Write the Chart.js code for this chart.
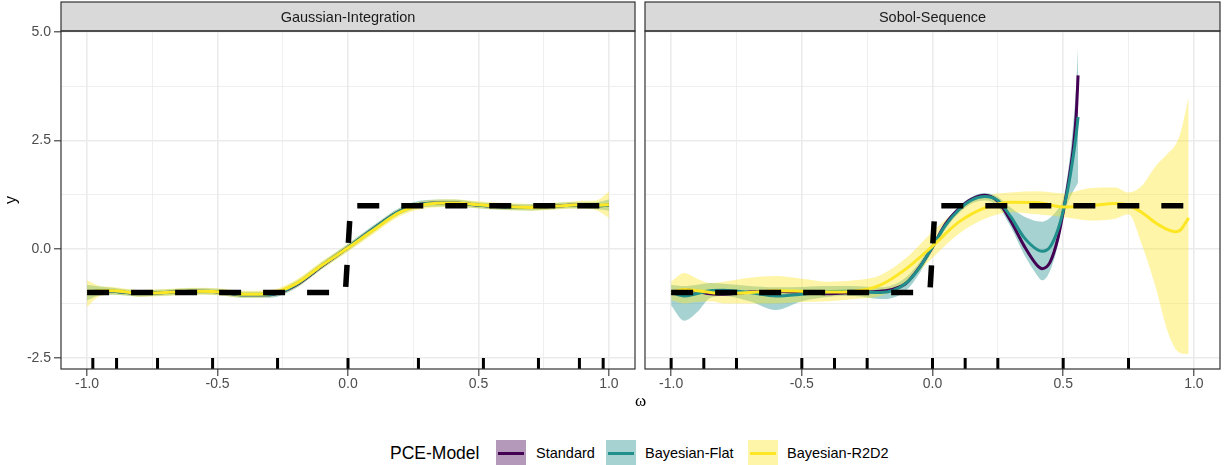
<!DOCTYPE html>
<html>
<head>
<meta charset="utf-8">
<script src="https://cdn.jsdelivr.net/npm/chart.js@4.4.1/dist/chart.umd.min.js"></script>
<style>
  body { margin: 0; background: #fff; }
  #wrap { position: relative; width: 1225px; height: 465px; overflow: hidden; font-family: 'Liberation Sans', Arial, sans-serif; }
  canvas { position: absolute; top: 0; }
  #xtitle { position: absolute; left: 600px; width: 81px; top: 391px; line-height: 20px; text-align: center; font-size: 17px; font-family: 'Liberation Serif', 'DejaVu Serif', serif; color: #000; }
  .legtitle { position: absolute; top: 441px; line-height: 24px; font-size: 17.5px; color: #000; white-space: nowrap; }
  .legkey { position: absolute; top: 440px; width: 30px; height: 27px; }
  .legkey div { position: absolute; left: 2px; right: 2px; top: 12px; height: 3px; }
  .leglabel { position: absolute; top: 441px; line-height: 24px; font-size: 14.5px; color: #000; white-space: nowrap; }
</style>
</head>
<body>
<div id="wrap">
  <canvas id="gauss" width="640" height="400" style="left:0px"></canvas>
  <canvas id="sobol" width="585" height="400" style="left:640px"></canvas>
  <div id="xtitle">ω</div>
</div>
<script>
// --- data ---
const panelTitles = ['Gaussian-Integration', 'Sobol-Sequence'];
const models = ['Standard', 'Bayesian-Flat', 'Bayesian-R2D2'];
const legendTitle = 'PCE-Model';

const xTicks = [-1, -0.5, 0, 0.5, 1];
const xTickLabels = ['-1.0', '-0.5', '0.0', '0.5', '1.0'];
const xMinor = [-0.75, -0.25, 0.25, 0.75];
const yTicks = [-2.5, 0, 2.5, 5];
const yTickLabels = ['-2.5', '0.0', '2.5', '5.0'];
const yMinor = [-1.25, 1.25, 3.75];

// true step function (dashed)
const trueX = [-1, -0.01, 0.01, 1];
const trueY = [-1, -1, 1, 1];

// rug: sample points
const gaussNodes = [-0.978, -0.887, -0.730, -0.519, -0.270, 0, 0.270, 0.519, 0.730, 0.887, 0.978];
const sobolPoints = [-1, -0.875, -0.75, -0.5, -0.375, -0.25, 0, 0.125, 0.25, 0.5, 0.75];

// Gaussian-Integration panel
const gX      = [-1, -0.95, -0.9, -0.85, -0.8, -0.7, -0.6, -0.5, -0.4, -0.3, -0.2, -0.1, 0, 0.1, 0.2, 0.3, 0.4, 0.5, 0.6, 0.7, 0.8, 0.85, 0.9, 0.95, 1];
const gStd    = [-1.00, -0.97, -0.97, -1.00, -1.02, -1.00, -0.97, -0.98, -1.05, -1.05, -0.83, -0.39, 0.04, 0.48, 0.88, 1.05, 1.06, 1.01, 0.97, 0.96, 0.99, 1.01, 1.01, 1.00, 1.01];
const gFlat   = [-1.00, -0.96, -0.97, -1.00, -1.02, -1.00, -0.97, -0.98, -1.05, -1.05, -0.82, -0.38, 0.04, 0.48, 0.88, 1.05, 1.06, 1.01, 0.97, 0.96, 0.99, 1.01, 1.01, 1.00, 1.01];
const gFlatHi = [-0.82, -0.86, -0.89, -0.93, -0.95, -0.93, -0.90, -0.91, -0.98, -0.98, -0.74, -0.30, 0.12, 0.56, 0.96, 1.13, 1.14, 1.08, 1.04, 1.03, 1.06, 1.08, 1.08, 1.08, 1.14];
const gFlatLo = [-1.18, -1.06, -1.05, -1.07, -1.09, -1.07, -1.04, -1.05, -1.12, -1.12, -0.90, -0.46, -0.04, 0.40, 0.80, 0.97, 0.98, 0.94, 0.90, 0.89, 0.92, 0.94, 0.94, 0.92, 0.88];
const gR2     = [-1.00, -0.96, -0.96, -0.99, -1.02, -1.00, -0.97, -0.98, -1.04, -1.02, -0.80, -0.37, 0.03, 0.45, 0.85, 1.03, 1.06, 1.02, 0.98, 0.96, 0.99, 1.01, 1.02, 1.01, 1.02];
const gR2Hi   = [-0.72, -0.85, -0.87, -0.91, -0.94, -0.92, -0.89, -0.90, -0.96, -0.94, -0.71, -0.28, 0.12, 0.54, 0.94, 1.12, 1.15, 1.10, 1.06, 1.04, 1.07, 1.09, 1.11, 1.12, 1.32];
const gR2Lo   = [-1.33, -1.08, -1.05, -1.07, -1.10, -1.08, -1.05, -1.06, -1.12, -1.10, -0.89, -0.46, -0.06, 0.36, 0.76, 0.94, 0.97, 0.94, 0.90, 0.88, 0.91, 0.93, 0.93, 0.90, 0.72];

// Sobol-Sequence panel
const sX      = [-1, -0.95, -0.9, -0.85, -0.8, -0.7, -0.6, -0.5, -0.4, -0.3, -0.2, -0.15, -0.1, -0.05, 0, 0.05, 0.1, 0.15, 0.2, 0.25, 0.3, 0.35, 0.4, 0.42, 0.45, 0.48, 0.5, 0.52, 0.54, 0.55, 0.557];
const sStd    = [-1.00, -0.94, -0.97, -1.03, -1.04, -0.99, -0.97, -1.00, -1.03, -1.00, -0.97, -0.92, -0.78, -0.42, 0.05, 0.58, 0.92, 1.15, 1.24, 1.10, 0.64, 0.08, -0.37, -0.45, -0.30, 0.25, 0.85, 1.55, 2.40, 3.10, 4.00];
const sFlat   = [-1.00, -1.08, -1.02, -0.96, -0.95, -1.00, -1.08, -1.04, -0.98, -0.97, -1.00, -0.95, -0.78, -0.43, 0.05, 0.55, 0.90, 1.13, 1.21, 1.12, 0.74, 0.27, -0.01, -0.05, 0.05, 0.45, 0.88, 1.45, 2.20, 2.65, 3.04];
const sFlatHi = [-0.82, -0.85, -0.82, -0.78, -0.80, -0.85, -0.88, -0.87, -0.85, -0.85, -0.88, -0.82, -0.64, -0.30, 0.14, 0.63, 0.98, 1.20, 1.29, 1.20, 0.95, 0.75, 0.64, 0.63, 0.72, 0.92, 1.15, 1.85, 3.00, 3.80, 4.65];
const sFlatLo = [-1.30, -1.65, -1.45, -1.12, -1.08, -1.20, -1.40, -1.20, -1.10, -1.08, -1.15, -1.12, -0.95, -0.56, -0.04, 0.46, 0.82, 1.05, 1.12, 0.98, 0.50, -0.12, -0.60, -0.72, -0.50, 0.10, 0.70, 1.10, 1.35, 1.45, 1.54];
const sR2X    = [-1, -0.95, -0.9, -0.85, -0.8, -0.7, -0.6, -0.5, -0.4, -0.3, -0.2, -0.1, 0, 0.1, 0.2, 0.3, 0.4, 0.5, 0.6, 0.7, 0.75, 0.8, 0.85, 0.9, 0.93, 0.95, 0.98];
const sR2     = [-1.00, -0.93, -0.96, -1.00, -1.02, -1.00, -0.96, -0.97, -0.99, -0.97, -0.83, -0.45, 0.07, 0.62, 0.95, 1.08, 1.07, 0.97, 1.00, 1.05, 1.01, 0.85, 0.62, 0.45, 0.40, 0.45, 0.72];
const sR2Hi   = [-0.75, -0.55, -0.68, -0.78, -0.75, -0.66, -0.62, -0.68, -0.75, -0.72, -0.60, -0.20, 0.40, 0.92, 1.22, 1.30, 1.33, 1.28, 1.40, 1.42, 1.30, 1.45, 1.88, 2.20, 2.40, 2.70, 3.50];
const sR2Lo   = [-1.17, -1.25, -1.22, -1.20, -1.25, -1.25, -1.25, -1.22, -1.20, -1.15, -1.08, -0.78, -0.20, 0.35, 0.70, 0.85, 0.80, 0.74, 0.66, 0.70, 0.80, 0.12, -0.80, -1.90, -2.30, -2.40, -2.42];

// --- styles ---
const modelColors = ['#440154', '#21908C', '#FDE725'];
const ribbonColors = ['rgba(68,1,84,0.4)', 'rgba(33,144,140,0.4)', 'rgba(253,231,37,0.4)'];
const fontFamily = "'Liberation Sans', Arial, sans-serif";

function pts(xs, ys) {
    return xs.map((x, i) => ({ x: x, y: ys[i] }));
}

function lineSet(xs, ys, k) {
    return {
        data: pts(xs, ys),
        borderColor: modelColors[k],
        borderWidth: 3,
        pointRadius: 0,
        fill: false,
        cubicInterpolationMode: 'monotone',
        order: 3 - k
    };
}

function ribbonSets(xs, hi, lo, k) {
    return [{
        data: pts(xs, hi),
        borderColor: 'rgba(0,0,0,0)',
        borderWidth: 0,
        pointRadius: 0,
        backgroundColor: ribbonColors[k],
        fill: '+1',
        cubicInterpolationMode: 'monotone',
        order: 12 - k
    }, {
        data: pts(xs, lo),
        borderColor: 'rgba(0,0,0,0)',
        borderWidth: 0,
        pointRadius: 0,
        fill: false,
        cubicInterpolationMode: 'monotone',
        order: 12 - k
    }];
}

function truthSet() {
    return {
        data: pts(trueX, trueY),
        borderColor: '#000',
        borderWidth: 5.5,
        borderDash: [22, 22],
        borderCapStyle: 'butt',
        pointRadius: 0,
        fill: false,
        tension: 0,
        order: 0
    };
}

// strip, panel border and rug
const panelPlugin = {
    id: 'panel',
    beforeDraw(chart, args, opts) {
        const ctx = chart.ctx, a = chart.chartArea;
        ctx.save();
        ctx.fillStyle = '#D9D9D9';
        ctx.fillRect(a.left, 2, a.right - a.left, a.top - 2);
        ctx.restore();
    },
    afterDatasetsDraw(chart, args, opts) {
        const ctx = chart.ctx, a = chart.chartArea, xs = chart.scales.x;
        ctx.save();
        ctx.strokeStyle = '#000';
        ctx.lineWidth = 3;
        ctx.beginPath();
        opts.rug.forEach(v => {
            const px = xs.getPixelForValue(v);
            ctx.moveTo(px, a.bottom);
            ctx.lineTo(px, a.bottom - 11);
        });
        ctx.stroke();
        ctx.restore();
    },
    afterDraw(chart, args, opts) {
        const ctx = chart.ctx, a = chart.chartArea;
        ctx.save();
        ctx.strokeStyle = '#333333';
        ctx.lineWidth = 1.2;
        ctx.strokeRect(a.left, 2, a.right - a.left, a.top - 2);
        ctx.strokeRect(a.left, a.top, a.right - a.left, a.bottom - a.top);
        ctx.fillStyle = '#1A1A1A';
        ctx.font = '14.5px ' + fontFamily;
        ctx.textAlign = 'center';
        ctx.textBaseline = 'middle';
        ctx.fillText(opts.title, (a.left + a.right) / 2, (2 + a.top) / 2 + 1);
        ctx.restore();
    }
};

function gridOpts(major, drawTicks) {
    return {
        color: '#EBEBEB',
        lineWidth: c => major.includes(c.tick.value) ? 1.6 : 0.8,
        drawTicks: drawTicks,
        tickLength: 7,
        tickWidth: 1.1,
        tickColor: c => major.includes(c.tick.value) ? '#333333' : 'rgba(0,0,0,0)'
    };
}

function makePanel(id, title, datasets, rug, showY) {
    return new Chart(document.getElementById(id), {
        type: 'line',
        data: { datasets: datasets },
        options: {
            responsive: false,
            animation: false,
            layout: { padding: { left: showY ? 0 : 5, right: 5, top: 31, bottom: 0 } },
            plugins: {
                legend: { display: false },
                tooltip: { enabled: false },
                panel: { title: title, rug: rug }
            },
            scales: {
                x: {
                    type: 'linear',
                    min: -1.1,
                    max: 1.1,
                    afterBuildTicks: s => {
                        s.ticks = xTicks.concat(xMinor).sort((p, q) => p - q).map(v => ({ value: v }));
                    },
                    afterFit: s => { s.height = 31; },
                    border: { display: false },
                    grid: gridOpts(xTicks, true),
                    ticks: {
                        autoSkip: false,
                        maxRotation: 0,
                        padding: 0,
                        color: '#4D4D4D',
                        font: { family: fontFamily, size: 14 },
                        callback: v => {
                            const i = xTicks.indexOf(v);
                            return i < 0 ? '' : xTickLabels[i];
                        }
                    }
                },
                y: {
                    type: 'linear',
                    min: -2.76,
                    max: 5.02,
                    afterBuildTicks: s => {
                        s.ticks = yTicks.concat(yMinor).sort((p, q) => p - q).map(v => ({ value: v }));
                    },
                    afterFit: s => { s.width = showY ? 61 : 0; },
                    border: { display: false },
                    grid: gridOpts(yTicks, showY),
                    title: {
                        display: showY,
                        text: 'y',
                        color: '#000',
                        font: { family: fontFamily, size: 16 },
                        padding: { top: 2, bottom: 0 }
                    },
                    ticks: {
                        display: showY,
                        autoSkip: false,
                        padding: 3,
                        color: '#4D4D4D',
                        font: { family: fontFamily, size: 14 },
                        callback: v => {
                            const i = yTicks.indexOf(v);
                            return i < 0 ? '' : yTickLabels[i];
                        }
                    }
                }
            }
        },
        plugins: [panelPlugin]
    });
}

const gaussSets = [truthSet(),
    lineSet(gX, gR2, 2), lineSet(gX, gFlat, 1), lineSet(gX, gStd, 0)]
    .concat(ribbonSets(gX, gFlatHi, gFlatLo, 1))
    .concat(ribbonSets(gX, gR2Hi, gR2Lo, 2));

const sobolSets = [truthSet(),
    lineSet(sR2X, sR2, 2), lineSet(sX, sFlat, 1), lineSet(sX, sStd, 0)]
    .concat(ribbonSets(sX, sFlatHi, sFlatLo, 1))
    .concat(ribbonSets(sR2X, sR2Hi, sR2Lo, 2));

makePanel('gauss', panelTitles[0], gaussSets, gaussNodes, true);
makePanel('sobol', panelTitles[1], sobolSets, sobolPoints, false);

// legend
const wrap = document.getElementById('wrap');
const keyLeft = [496, 606, 748];
const labelLeft = [536, 645, 787];
const lt = document.createElement('div');
lt.className = 'legtitle';
lt.style.left = '390px';
lt.textContent = legendTitle;
wrap.appendChild(lt);
models.forEach((m, k) => {
    const key = document.createElement('div');
    key.className = 'legkey';
    key.style.left = keyLeft[k] + 'px';
    key.style.background = ribbonColors[k];
    const bar = document.createElement('div');
    bar.style.background = modelColors[k];
    key.appendChild(bar);
    wrap.appendChild(key);
    const lab = document.createElement('div');
    lab.className = 'leglabel';
    lab.style.left = labelLeft[k] + 'px';
    lab.textContent = m;
    wrap.appendChild(lab);
});
</script>
</body>
</html>
